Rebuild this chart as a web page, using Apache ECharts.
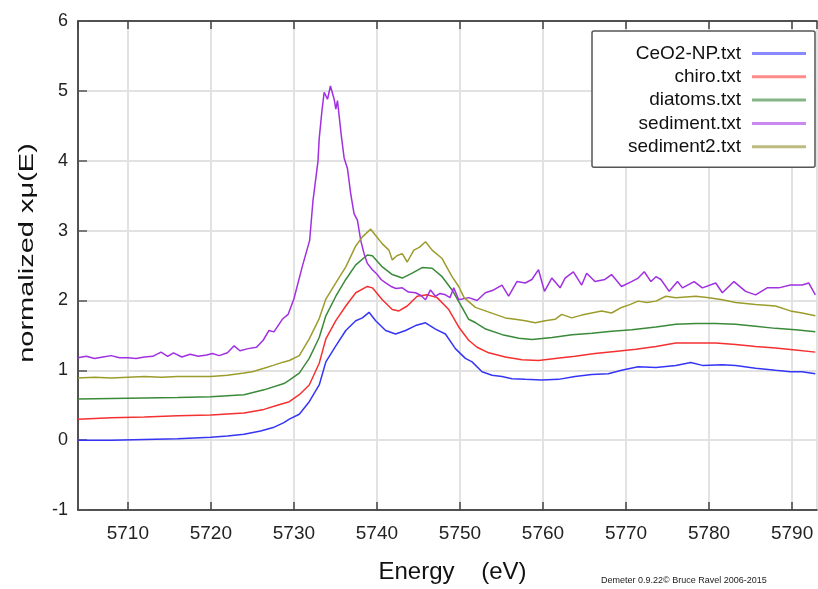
<!DOCTYPE html>
<html>
<head>
<meta charset="utf-8">
<script src="https://cdn.jsdelivr.net/npm/echarts@6/dist/echarts.min.js"></script>
<style>
  html, body { margin: 0; padding: 0; background: #fff; }
  #chart { width: 818px; height: 589px; }
</style>
</head>
<body>
<div id="chart"></div>
<script>
// energies (eV) and normalized xmu(E), one pair of arrays per file
const ceo2E = [5704, 5708, 5712, 5716, 5720, 5722, 5724, 5726, 5727.5, 5728.8, 5729.45, 5730.65, 5731.85, 5733.05, 5733.85, 5735.05, 5736.25, 5737.45, 5738.25, 5739.05, 5739.85, 5741.05, 5742.25, 5743.45, 5744.65, 5745.85, 5747.05, 5748.25, 5749.45, 5750.65, 5751.46, 5752.66, 5753.86, 5755.06, 5756.26, 5757.86, 5759.86, 5761.86, 5763.86, 5765.86, 5767.86, 5769.46, 5771.46, 5773.6, 5776.0, 5777.8, 5779.2, 5781.6, 5783.2, 5785.6, 5788.0, 5789.8, 5791.2, 5792.8]
const ceo2Y = [0.00, 0.00, 0.01, 0.02, 0.04, 0.06, 0.085, 0.13, 0.18, 0.25, 0.30, 0.37, 0.55, 0.79, 1.12, 1.35, 1.57, 1.71, 1.75, 1.83, 1.71, 1.57, 1.52, 1.57, 1.64, 1.68, 1.59, 1.52, 1.31, 1.17, 1.12, 0.98, 0.93, 0.91, 0.88, 0.87, 0.86, 0.87, 0.91, 0.94, 0.95, 1.00, 1.05, 1.04, 1.07, 1.11, 1.07, 1.08, 1.07, 1.03, 1.00, 0.98, 0.98, 0.95]

const chiroE = [5704, 5708, 5712, 5716, 5720, 5724, 5726.4, 5728, 5729.45, 5730.65, 5731.85, 5733.05, 5733.85, 5735.05, 5736.25, 5737.45, 5738.85, 5739.45, 5740.65, 5741.85, 5742.65, 5743.65, 5744.85, 5746.05, 5747.25, 5748.65, 5749.85, 5751.05, 5752.06, 5753.46, 5755.46, 5757.46, 5759.46, 5761.46, 5763.86, 5766.26, 5768.66, 5771.2, 5773.6, 5776.0, 5778.4, 5780.8, 5783.2, 5785.6, 5788.0, 5790.4, 5792.8]
const chiroY = [0.30, 0.32, 0.33, 0.35, 0.36, 0.39, 0.44, 0.50, 0.55, 0.65, 0.79, 1.10, 1.45, 1.71, 1.92, 2.11, 2.20, 2.18, 2.01, 1.87, 1.85, 1.92, 2.06, 2.08, 2.04, 1.87, 1.62, 1.43, 1.33, 1.25, 1.19, 1.15, 1.14, 1.17, 1.20, 1.24, 1.27, 1.30, 1.34, 1.39, 1.39, 1.39, 1.37, 1.34, 1.32, 1.29, 1.26]

const diatomsE = [5704, 5710, 5716, 5720, 5724, 5726.4, 5728.8, 5729.45, 5730.65, 5731.85, 5733.05, 5733.85, 5735.05, 5736.25, 5737.45, 5738.85, 5739.45, 5740.65, 5741.85, 5743.05, 5744.25, 5745.45, 5746.65, 5747.85, 5749.05, 5750.25, 5751.05, 5751.9, 5753.1, 5755.1, 5757.1, 5758.7, 5761.1, 5763.5, 5765.9, 5768.3, 5770.7, 5773.6, 5776.0, 5778.4, 5780.8, 5783.2, 5785.6, 5788.0, 5790.4, 5792.8]
const diatomsY = [0.59, 0.60, 0.61, 0.62, 0.65, 0.72, 0.81, 0.86, 0.96, 1.17, 1.47, 1.78, 2.06, 2.30, 2.51, 2.65, 2.64, 2.48, 2.37, 2.32, 2.39, 2.47, 2.46, 2.34, 2.15, 1.90, 1.73, 1.68, 1.59, 1.51, 1.46, 1.44, 1.47, 1.51, 1.53, 1.56, 1.58, 1.62, 1.66, 1.67, 1.67, 1.66, 1.63, 1.60, 1.58, 1.55]

const sedE = [5704, 5705, 5706, 5707, 5708, 5709, 5710, 5711, 5712, 5713, 5714, 5714.8, 5715.5, 5716.5, 5717.5, 5718.5, 5719.5, 5720.2, 5721, 5722, 5722.8, 5723.5, 5724.5, 5725.5, 5726.3, 5727, 5727.6, 5728.6, 5729.3, 5730, 5731, 5731.9, 5732.3, 5732.9, 5733.05, 5733.4, 5733.65, 5734.05, 5734.4, 5734.85, 5735.05, 5735.25, 5735.7, 5736.05, 5736.45, 5736.85, 5737.25, 5737.65, 5738.05, 5738.45, 5738.85, 5739.45, 5740.05, 5740.5, 5741.05, 5741.7, 5742.3, 5743.05, 5743.8, 5744.65, 5745.3, 5745.85, 5746.45, 5747.05, 5747.6, 5748.25, 5748.8, 5749.25, 5749.85, 5751.06, 5752.06, 5753.06, 5754.06, 5755.06, 5755.86, 5756.86, 5757.86, 5758.66, 5759.46, 5760.18, 5761.06, 5762.06, 5762.66, 5763.66, 5764.66, 5765.26, 5766.26, 5767.46, 5768.26, 5769.46, 5770.66, 5771.46, 5772.2, 5773.0, 5773.6, 5774.2, 5775.2, 5776.2, 5776.8, 5778.2, 5779.2, 5780.8, 5781.6, 5783.0, 5784.4, 5785.6, 5787.0, 5788.4, 5789.8, 5791.2, 5792.0, 5792.8]
const sedY = [1.18, 1.20, 1.17, 1.19, 1.21, 1.18, 1.18, 1.17, 1.19, 1.20, 1.26, 1.20, 1.25, 1.19, 1.23, 1.20, 1.22, 1.24, 1.21, 1.25, 1.35, 1.28, 1.31, 1.33, 1.43, 1.57, 1.55, 1.73, 1.80, 2.02, 2.48, 2.86, 3.43, 3.99, 4.32, 4.74, 4.98, 4.88, 5.07, 4.88, 4.74, 4.86, 4.37, 4.04, 3.89, 3.52, 3.24, 3.15, 2.86, 2.67, 2.53, 2.44, 2.37, 2.30, 2.25, 2.20, 2.17, 2.18, 2.12, 2.11, 2.07, 2.01, 2.15, 2.06, 2.10, 2.08, 2.04, 2.18, 2.01, 2.04, 2.00, 2.11, 2.15, 2.22, 2.06, 2.27, 2.25, 2.30, 2.44, 2.13, 2.32, 2.18, 2.32, 2.41, 2.22, 2.39, 2.27, 2.30, 2.37, 2.20, 2.27, 2.32, 2.41, 2.27, 2.34, 2.30, 2.13, 2.27, 2.18, 2.27, 2.18, 2.25, 2.11, 2.27, 2.13, 2.08, 2.18, 2.18, 2.22, 2.22, 2.25, 2.08]

const sed2E = [5704, 5706, 5708, 5710, 5712, 5714, 5716, 5718, 5720, 5722, 5724, 5725, 5726.4, 5727.5, 5728.8, 5729.45, 5730.65, 5731.85, 5733.05, 5733.85, 5735.05, 5736.25, 5737.45, 5738.25, 5739.25, 5739.85, 5740.65, 5741.45, 5741.85, 5742.4, 5743.05, 5743.65, 5744.45, 5745.1, 5745.85, 5746.65, 5747.85, 5749.05, 5749.85, 5750.5, 5751.86, 5753.06, 5754.26, 5755.46, 5756.66, 5757.86, 5759.06, 5760.26, 5761.46, 5762.26, 5763.46, 5764.66, 5765.86, 5767.06, 5768.26, 5769.46, 5770.46, 5771.46, 5772.5, 5773.6, 5774.8, 5776.0, 5778.4, 5780.0, 5781.6, 5783.2, 5785.6, 5788.0, 5789.8, 5791.2, 5792.8]
const sed2Y = [0.89, 0.90, 0.89, 0.90, 0.91, 0.90, 0.91, 0.91, 0.91, 0.93, 0.96, 0.98, 1.03, 1.07, 1.12, 1.14, 1.21, 1.45, 1.74, 2.02, 2.25, 2.48, 2.78, 2.91, 3.02, 2.93, 2.81, 2.72, 2.58, 2.64, 2.67, 2.55, 2.72, 2.76, 2.84, 2.72, 2.60, 2.34, 2.20, 2.04, 1.90, 1.85, 1.80, 1.75, 1.73, 1.71, 1.68, 1.71, 1.73, 1.80, 1.75, 1.79, 1.82, 1.85, 1.82, 1.90, 1.94, 1.99, 1.97, 1.99, 2.06, 2.04, 2.06, 2.04, 2.01, 1.97, 1.94, 1.92, 1.85, 1.82, 1.78]

const names = ['CeO2-NP.txt', 'chiro.txt', 'diatoms.txt', 'sediment.txt', 'sediment2.txt']
const lineColors = ['#3535f5', '#f53030', '#3a8a3a', '#a030e0', '#9c9c2c']
const legendColors = ['#8a8aff', '#ff8a8a', '#86b486', '#c88af0', '#bcbc80']

function pairs(xs, ys) {
  return xs.map((x, i) => [x, ys[i]])
}
const seriesData = [
  pairs(ceo2E, ceo2Y),
  pairs(chiroE, chiroY),
  pairs(diatomsE, diatomsY),
  pairs(sedE, sedY),
  pairs(sed2E, sed2Y)
]

const font = 'Liberation Sans, Arial, sans-serif'
const tickLabel = v => (v % 10 === 0 ? String(v) : '')

const chart = echarts.init(document.getElementById('chart'))
const option = {
  backgroundColor: '#fff',
  animation: false,
  grid: { left: 78, top: 21, right: 1, bottom: 72 },
  legend: {
    orient: 'vertical',
    left: 592,
    top: 31,
    padding: [13, 9, 11, 9],
    align: 'right',
    itemGap: 4.3,
    itemWidth: 54,
    itemHeight: 3,
    icon: 'rect',
    backgroundColor: '#fff',
    borderColor: '#555',
    borderWidth: 1.5,
    borderRadius: 2,
    formatter: '{a|{name}}',
    textStyle: {
      fontSize: 19,
      fontFamily: font,
      rich: {
        a: { width: 140, align: 'right', fontSize: 19, lineHeight: 19, fontFamily: font, color: '#111', padding: [0, 6, 0, 0] }
      }
    },
    data: names.map((n, i) => ({ name: n, itemStyle: { color: legendColors[i] } }))
  },
  xAxis: [
    {
      type: 'value',
      min: 5704,
      max: 5793,
      splitNumber: 9,
      name: 'Energy    (eV)',
      nameLocation: 'middle',
      nameGap: 50,
      nameTextStyle: { fontSize: 24, fontFamily: font, color: '#111', padding: [0, 0, 0, 10] },
      axisLine: { show: true, onZero: false, lineStyle: { color: '#222', width: 1.5 } },
      axisTick: { show: true, inside: true, length: 8, lineStyle: { color: '#444', width: 1.5 } },
      axisLabel: { fontSize: 19, fontFamily: font, color: '#222', margin: 14, showMinLabel: false, showMaxLabel: false, formatter: tickLabel },
      splitLine: { show: true, lineStyle: { color: '#e2e2e2', width: 2 } }
    },
    {
      type: 'value',
      position: 'top',
      min: 5704,
      max: 5793,
      splitNumber: 9,
      axisLine: { show: true, onZero: false, lineStyle: { color: '#222', width: 1.5 } },
      axisTick: { show: true, inside: true, length: 8, lineStyle: { color: '#444', width: 1.5 } },
      axisLabel: { show: false },
      splitLine: { show: false }
    }
  ],
  yAxis: {
    type: 'value',
    min: -1,
    max: 6,
    interval: 1,
    axisLine: { show: true, onZero: false, lineStyle: { color: '#222', width: 1.5 } },
    axisTick: { show: true, inside: true, length: 9, lineStyle: { color: '#555', width: 1.5 } },
    axisLabel: { fontSize: 18, fontFamily: font, color: '#222', margin: 10 },
    splitLine: { show: true, lineStyle: { color: '#e2e2e2', width: 2 } }
  },
  graphic: [
    {
      // y axis title, stretched along its length like the original
      type: 'text',
      x: 27,
      y: 253,
      rotation: Math.PI / 2,
      scaleX: 1.38,
      style: { text: 'normalized xμ(E)', fontSize: 21, fontFamily: font, fill: '#111', align: 'center', verticalAlign: 'middle' }
    },
    {
      type: 'text',
      left: 601,
      top: 576,
      style: { text: 'Demeter 0.9.22© Bruce Ravel 2006-2015', fontSize: 9, fontFamily: font, fill: '#222' }
    }
  ],
  series: names.map((n, i) => ({
    name: n,
    type: 'line',
    xAxisIndex: 0,
    showSymbol: false,
    symbol: 'none',
    lineStyle: { color: lineColors[i], width: 1.5 },
    itemStyle: { color: lineColors[i] },
    data: seriesData[i]
  }))
}
chart.setOption(option)
</script>
</body>
</html>
